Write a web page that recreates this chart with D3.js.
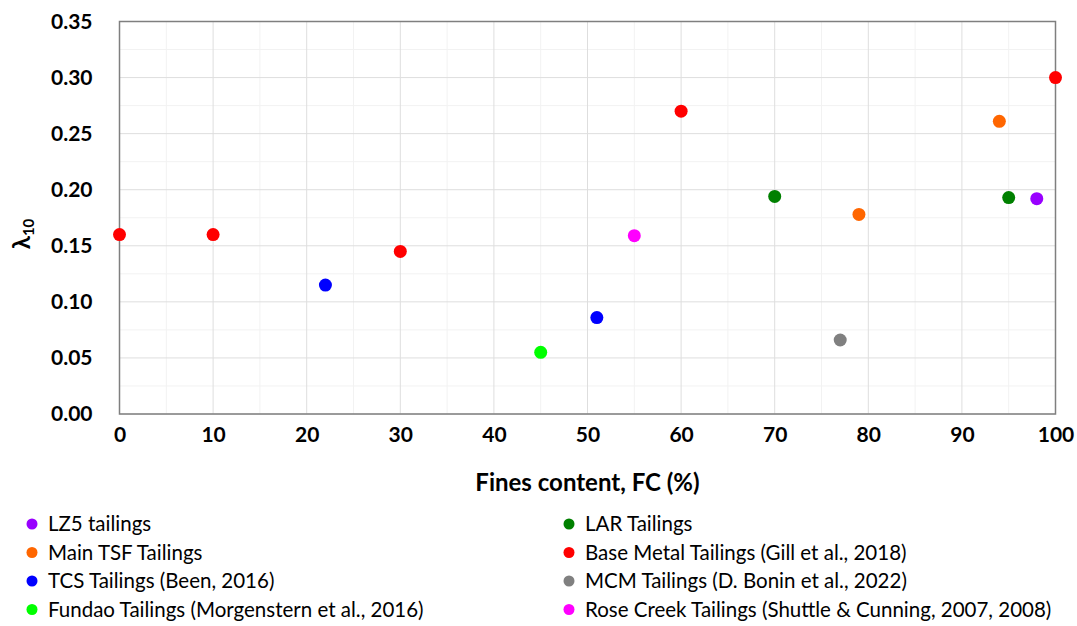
<!DOCTYPE html>
<html>
<head>
<meta charset="utf-8">
<script src="https://cdn.jsdelivr.net/npm/d3@7"></script>
<style>
  body { margin: 0; background: #fff; }
  svg { display: block; font-family: Lato, "Open Sans", sans-serif; }
</style>
</head>
<body>
<script>
// series names, legend order (two columns, read left then right per row)
var seriesNames = [
  'LZ5 tailings', 'LAR Tailings',
  'Main TSF Tailings', 'Base Metal Tailings (Gill et al., 2018)',
  'TCS Tailings (Been, 2016)', 'MCM Tailings (D. Bonin et al., 2022)',
  'Fundao Tailings (Morgenstern et al., 2016)', 'Rose Creek Tailings (Shuttle & Cunning, 2007, 2008)'
];
var seriesColors = ['#9900ff', '#008000', '#ff6600', '#ff0000', '#0000ff', '#808080', '#00ff00', '#ff00ff'];

// fines content (%) and lambda10 per series
var lz5FC = [98],              lz5L = [0.192];
var larFC = [70, 95],          larL = [0.194, 0.193];
var mainFC = [79, 94],         mainL = [0.178, 0.261];
var baseFC = [0, 10, 30, 60, 100], baseL = [0.160, 0.160, 0.145, 0.270, 0.300];
var tcsFC = [22, 51],          tcsL = [0.115, 0.086];
var mcmFC = [77],              mcmL = [0.066];
var fundaoFC = [45],           fundaoL = [0.055];
var roseFC = [55],             roseL = [0.159];

var xTicks = [0, 10, 20, 30, 40, 50, 60, 70, 80, 90, 100];
var yTicks = [0, 0.05, 0.10, 0.15, 0.20, 0.25, 0.30, 0.35];

var seriesData = [
  [lz5FC, lz5L], [larFC, larL], [mainFC, mainL], [baseFC, baseL],
  [tcsFC, tcsL], [mcmFC, mcmL], [fundaoFC, fundaoL], [roseFC, roseL]
];

var W = 1077, H = 626;
var plot = { left: 119.5, right: 1055.5, top: 21.5, bottom: 414 };

var svg = d3.select('body').append('svg')
  .attr('width', W).attr('height', H);

var x = d3.scaleLinear().domain([0, 100]).range([plot.left, plot.right]);
var y = d3.scaleLinear().domain([0, 0.35]).range([plot.bottom, plot.top]);

// minor grid
var grid = svg.append('g');
d3.range(5, 100, 10).forEach(function(v) {
  grid.append('line').attr('x1', x(v)).attr('x2', x(v))
    .attr('y1', plot.top).attr('y2', plot.bottom)
    .attr('stroke', '#f2f2f2').attr('stroke-width', 1);
});
d3.range(0.025, 0.35, 0.05).forEach(function(v) {
  grid.append('line').attr('x1', plot.left).attr('x2', plot.right)
    .attr('y1', y(v)).attr('y2', y(v))
    .attr('stroke', '#f2f2f2').attr('stroke-width', 1);
});
// major grid
xTicks.forEach(function(v) {
  grid.append('line').attr('x1', x(v)).attr('x2', x(v))
    .attr('y1', plot.top).attr('y2', plot.bottom)
    .attr('stroke', '#dedede').attr('stroke-width', 1);
});
yTicks.forEach(function(v) {
  grid.append('line').attr('x1', plot.left).attr('x2', plot.right)
    .attr('y1', y(v)).attr('y2', y(v))
    .attr('stroke', '#dedede').attr('stroke-width', 1);
});

// plot frame
svg.append('rect')
  .attr('x', plot.left).attr('y', plot.top)
  .attr('width', plot.right - plot.left).attr('height', plot.bottom - plot.top)
  .attr('fill', 'none').attr('stroke', '#7f7f7f').attr('stroke-width', 1.5);

// axes (labels only, no tick marks)
var xAxis = svg.append('g')
  .attr('transform', 'translate(0,' + (plot.bottom + 13) + ')')
  .call(d3.axisBottom(x).tickValues(xTicks).tickSize(0).tickPadding(0));
var yAxis = svg.append('g')
  .attr('transform', 'translate(' + (plot.left - 27) + ',0)')
  .call(d3.axisLeft(y).tickValues(yTicks).tickSize(0).tickPadding(0).tickFormat(d3.format('.2f')));
[xAxis, yAxis].forEach(function(a) {
  a.select('.domain').remove();
  a.selectAll('text')
    .attr('font-family', 'Lato, sans-serif')
    .attr('font-size', 21).attr('font-weight', 'bold').attr('fill', '#000');
});
xAxis.selectAll('text').attr('dy', '0.71em');

// axis titles
svg.append('text')
  .attr('x', (plot.left + plot.right) / 2).attr('y', 491)
  .attr('text-anchor', 'middle')
  .attr('font-size', 24).attr('font-weight', 'bold').attr('fill', '#000')
  .text('Fines content, FC (%)');

var yt = svg.append('text')
  .attr('transform', 'translate(30,234) rotate(-90)')
  .attr('text-anchor', 'middle')
  .attr('font-size', 24).attr('font-weight', 'bold').attr('fill', '#000');
yt.append('tspan').text('λ');
yt.append('tspan').attr('font-size', 15).attr('dy', 4).text('10');

// points
seriesData.forEach(function(s, i) {
  var pts = s[0].map(function(fc, j) { return [fc, s[1][j]]; });
  svg.append('g').selectAll('circle')
    .data(pts).enter().append('circle')
    .attr('cx', function(d) { return x(d[0]); })
    .attr('cy', function(d) { return y(d[1]); })
    .attr('r', 6.5)
    .attr('fill', seriesColors[i]);
});

// legend
var legend = svg.append('g');
seriesNames.forEach(function(name, i) {
  var col = i % 2, row = Math.floor(i / 2);
  var lx = col === 0 ? 32 : 569;
  var ly = 524 + row * 28.5;
  legend.append('circle').attr('cx', lx).attr('cy', ly).attr('r', 5.5)
    .attr('fill', seriesColors[i]);
  legend.append('text').attr('x', lx + 16).attr('y', ly).attr('dy', '0.35em')
    .attr('font-size', 20.5).attr('fill', '#000')
    .text(name);
});
</script>
</body>
</html>
